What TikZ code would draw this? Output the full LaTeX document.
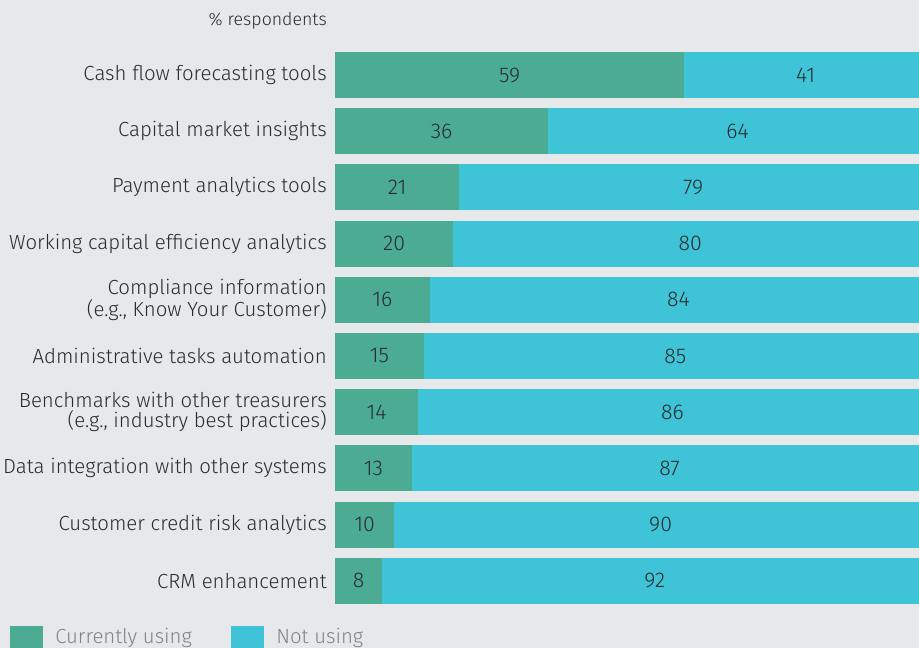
\documentclass[tikz,border=0pt]{standalone}
\usepackage{fontspec}
\setmainfont{Fira Sans}[UprightFont=* Light]
\usepackage{tikz}
\definecolor{bgGrey}{HTML}{E7E8EA}
\definecolor{useGreen}{HTML}{4BAC93}
\definecolor{notCyan}{HTML}{3EC3D7}
\definecolor{labelInk}{HTML}{2B2B2B}
\definecolor{legendInk}{HTML}{7D848B}

\begin{document}
\begin{tikzpicture}[x=0.75pt,y=0.75pt,yscale=-1,xscale=1,
  rowlabel/.style={anchor=east,inner sep=0pt,align=right,text=labelInk,font=\fontsize{15.3}{15}\selectfont},
  usebar/.style={anchor=north west,inner sep=0pt,outer sep=0pt,minimum height=34.5pt,fill=useGreen,text=labelInk,font=\fontsize{16}{16}\selectfont},
  notbar/.style={anchor=north west,inner sep=0pt,outer sep=0pt,minimum height=34.5pt,fill=notCyan,text=labelInk,font=\fontsize{16}{16}\selectfont},
  keybox/.style={anchor=north west,inner sep=0pt,minimum width=24.75pt,minimum height=24.75pt},
  keytext/.style={anchor=west,inner sep=0pt,text=legendInk,font=\fontsize{15.3}{16}\selectfont}]
\useasboundingbox (0,0) rectangle (919,648);
\fill [bgGrey] (0,0) rectangle (919,648);
\clip (0,0) rectangle (919,648);

% Text Node
\node [anchor=east,inner sep=0pt,text=labelInk,font=\fontsize{13.3}{15}\selectfont] (unit) at (327,21) {\% respondents};

% Text Node
\node [rowlabel] (lab0) at (327,75) {Cash flow forecasting tools};
\node [usebar,minimum width=261.96pt] (use0) at (335,52) {59};
\node [notbar,minimum width=182.04pt] (not0) at (use0.north east) {41};
% Text Node
\node [rowlabel] (lab1) at (327,131.2) {Capital market insights};
\node [usebar,minimum width=159.84pt] (use1) at (335,108.2) {36};
\node [notbar,minimum width=284.16pt] (not1) at (use1.north east) {64};
% Text Node
\node [rowlabel] (lab2) at (327,187.4) {Payment analytics tools};
\node [usebar,minimum width=93.24pt] (use2) at (335,164.4) {21};
\node [notbar,minimum width=350.76pt] (not2) at (use2.north east) {79};
% Text Node
\node [rowlabel] (lab3) at (327,243.6) {Working capital efficiency analytics};
\node [usebar,minimum width=88.8pt] (use3) at (335,220.6) {20};
\node [notbar,minimum width=355.2pt] (not3) at (use3.north east) {80};
% Text Node
\node [rowlabel] (lab4) at (327,299.8) {Compliance information\\(e.g., Know Your Customer)};
\node [usebar,minimum width=71.04pt] (use4) at (335,276.8) {16};
\node [notbar,minimum width=372.96pt] (not4) at (use4.north east) {84};
% Text Node
\node [rowlabel] (lab5) at (327,356) {Administrative tasks automation};
\node [usebar,minimum width=66.6pt] (use5) at (335,333) {15};
\node [notbar,minimum width=377.4pt] (not5) at (use5.north east) {85};
% Text Node
\node [rowlabel] (lab6) at (327,412.2) {Benchmarks with other treasurers\\(e.g., industry best practices)};
\node [usebar,minimum width=62.16pt] (use6) at (335,389.2) {14};
\node [notbar,minimum width=381.84pt] (not6) at (use6.north east) {86};
% Text Node
\node [rowlabel] (lab7) at (327,468.4) {Data integration with other systems};
\node [usebar,minimum width=57.72pt] (use7) at (335,445.4) {13};
\node [notbar,minimum width=386.28pt] (not7) at (use7.north east) {87};
% Text Node
\node [rowlabel] (lab8) at (327,524.6) {Customer credit risk analytics};
\node [usebar,minimum width=44.4pt] (use8) at (335,501.6) {10};
\node [notbar,minimum width=399.6pt] (not8) at (use8.north east) {90};
% Text Node
\node [rowlabel] (lab9) at (327,580.8) {CRM enhancement};
\node [usebar,minimum width=35.52pt] (use9) at (335,557.8) {8};
\node [notbar,minimum width=408.48pt] (not9) at (use9.north east) {92};

% Legend
\node [keybox,fill=useGreen] (keyuse) at (10,626) {};
\node [keytext] (keyusetext) at (55,638) {Currently using};
\node [keybox,fill=notCyan] (keynot) at (231,626) {};
\node [keytext] (keynottext) at (276,638) {Not using};

\end{tikzpicture}
\end{document}
